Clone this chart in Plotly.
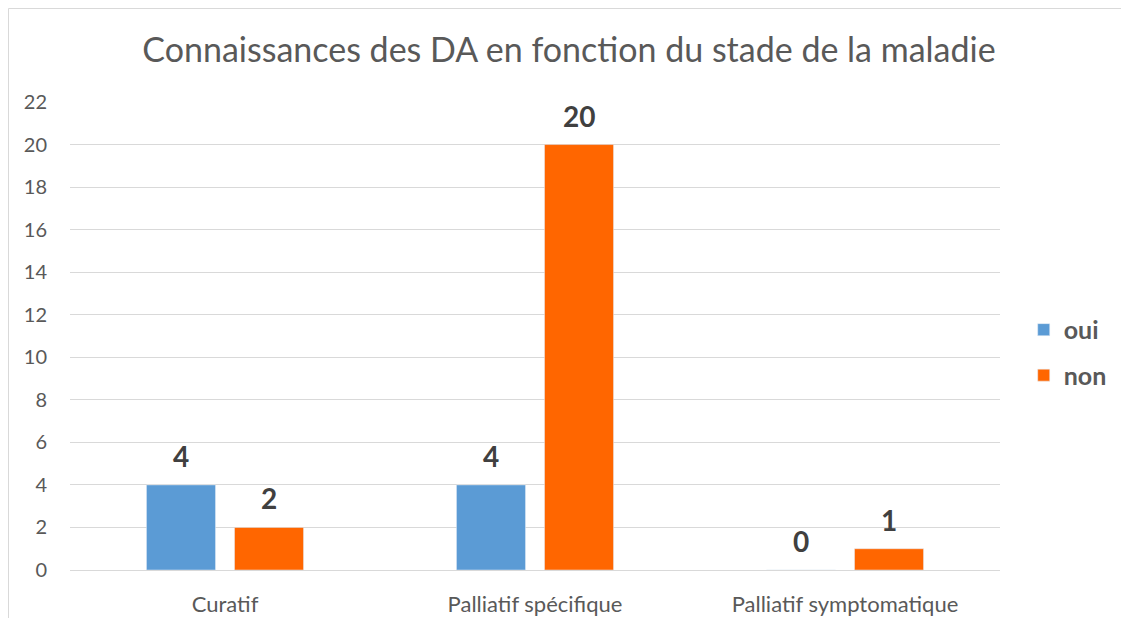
import plotly.graph_objects as go

categories = ["Curatif", "Palliatif spécifique", "Palliatif symptomatique"]
oui = [4, 4, 0]
non = [2, 20, 1]
y_ticks = list(range(0, 23, 2))

FONT = "Lato"
# page body has an 8px margin: figure sits at (8, 8)
W, H = 1113, 610
L, T, PW, PH = 62, 94, 930, 468
fig = go.Figure()
fig.add_trace(go.Bar(x=categories, y=oui, name="oui", marker_color="#5B9BD5",
                     legendgroup="a"))
fig.add_trace(go.Bar(x=categories, y=non, name="non", marker_color="#FF6600",
                     legendgroup="b"))

annotations = []
for series, shift in ((oui, -44), (non, 44)):
    for c, v in zip(categories, series):
        annotations.append(dict(x=c, y=v, xref="x", yref="y", text=f"<b>{v}</b>",
                                showarrow=False, xshift=shift, yshift=10,
                                yanchor="bottom",
                                font=dict(family=FONT, size=28, color="#404040")))

fig.update_layout(
    width=W, height=H,
    margin=dict(l=L, r=W - L - PW, t=T, b=H - T - PH, autoexpand=False),
    paper_bgcolor="white", plot_bgcolor="white",
    title=dict(text="Connaissances des DA en fonction du stade de la maladie",
               x=(569 - 8) / W, xanchor="center", y=1 - (50 - 8) / H, yanchor="middle",
               font=dict(family=FONT, size=34, color="#595959")),
    barmode="group", bargap=0.432, bargroupgap=0.216,
    showlegend=True,
    legend=dict(x=1.0255, y=0.465, xanchor="left", yanchor="middle",
                tracegroupgap=10,
                font=dict(family=FONT, size=25, color="#595959", weight="bold"),
                itemwidth=30),
    annotations=annotations,
    xaxis=dict(showgrid=False, showline=False, ticks="", ticklabelstandoff=19,
               automargin=False,
               tickfont=dict(family=FONT, size=22, color="#595959")),
    yaxis=dict(range=[0, 22], tickvals=y_ticks, showgrid=True, gridcolor="#D9D9D9",
               gridwidth=1, zeroline=True, zerolinecolor="#D9D9D9", zerolinewidth=1,
               ticks="", ticklabelstandoff=22, automargin=False,
               tickfont=dict(family=FONT, size=20, color="#595959")),
    shapes=[
        dict(type="line", xref="paper", yref="paper", x0=(0.5 - L) / PW, x1=(0.5 - L) / PW,
             y0=-(H - T - PH) / PH, y1=(PH + T - 0.5) / PH, line=dict(color="#D9D9D9", width=1)),
        dict(type="line", xref="paper", yref="paper", x0=(0.5 - L) / PW, x1=(W - L) / PW,
             y0=(PH + T - 0.5) / PH, y1=(PH + T - 0.5) / PH, line=dict(color="#D9D9D9", width=1)),
    ],
)
fig.write_html("out.html")
